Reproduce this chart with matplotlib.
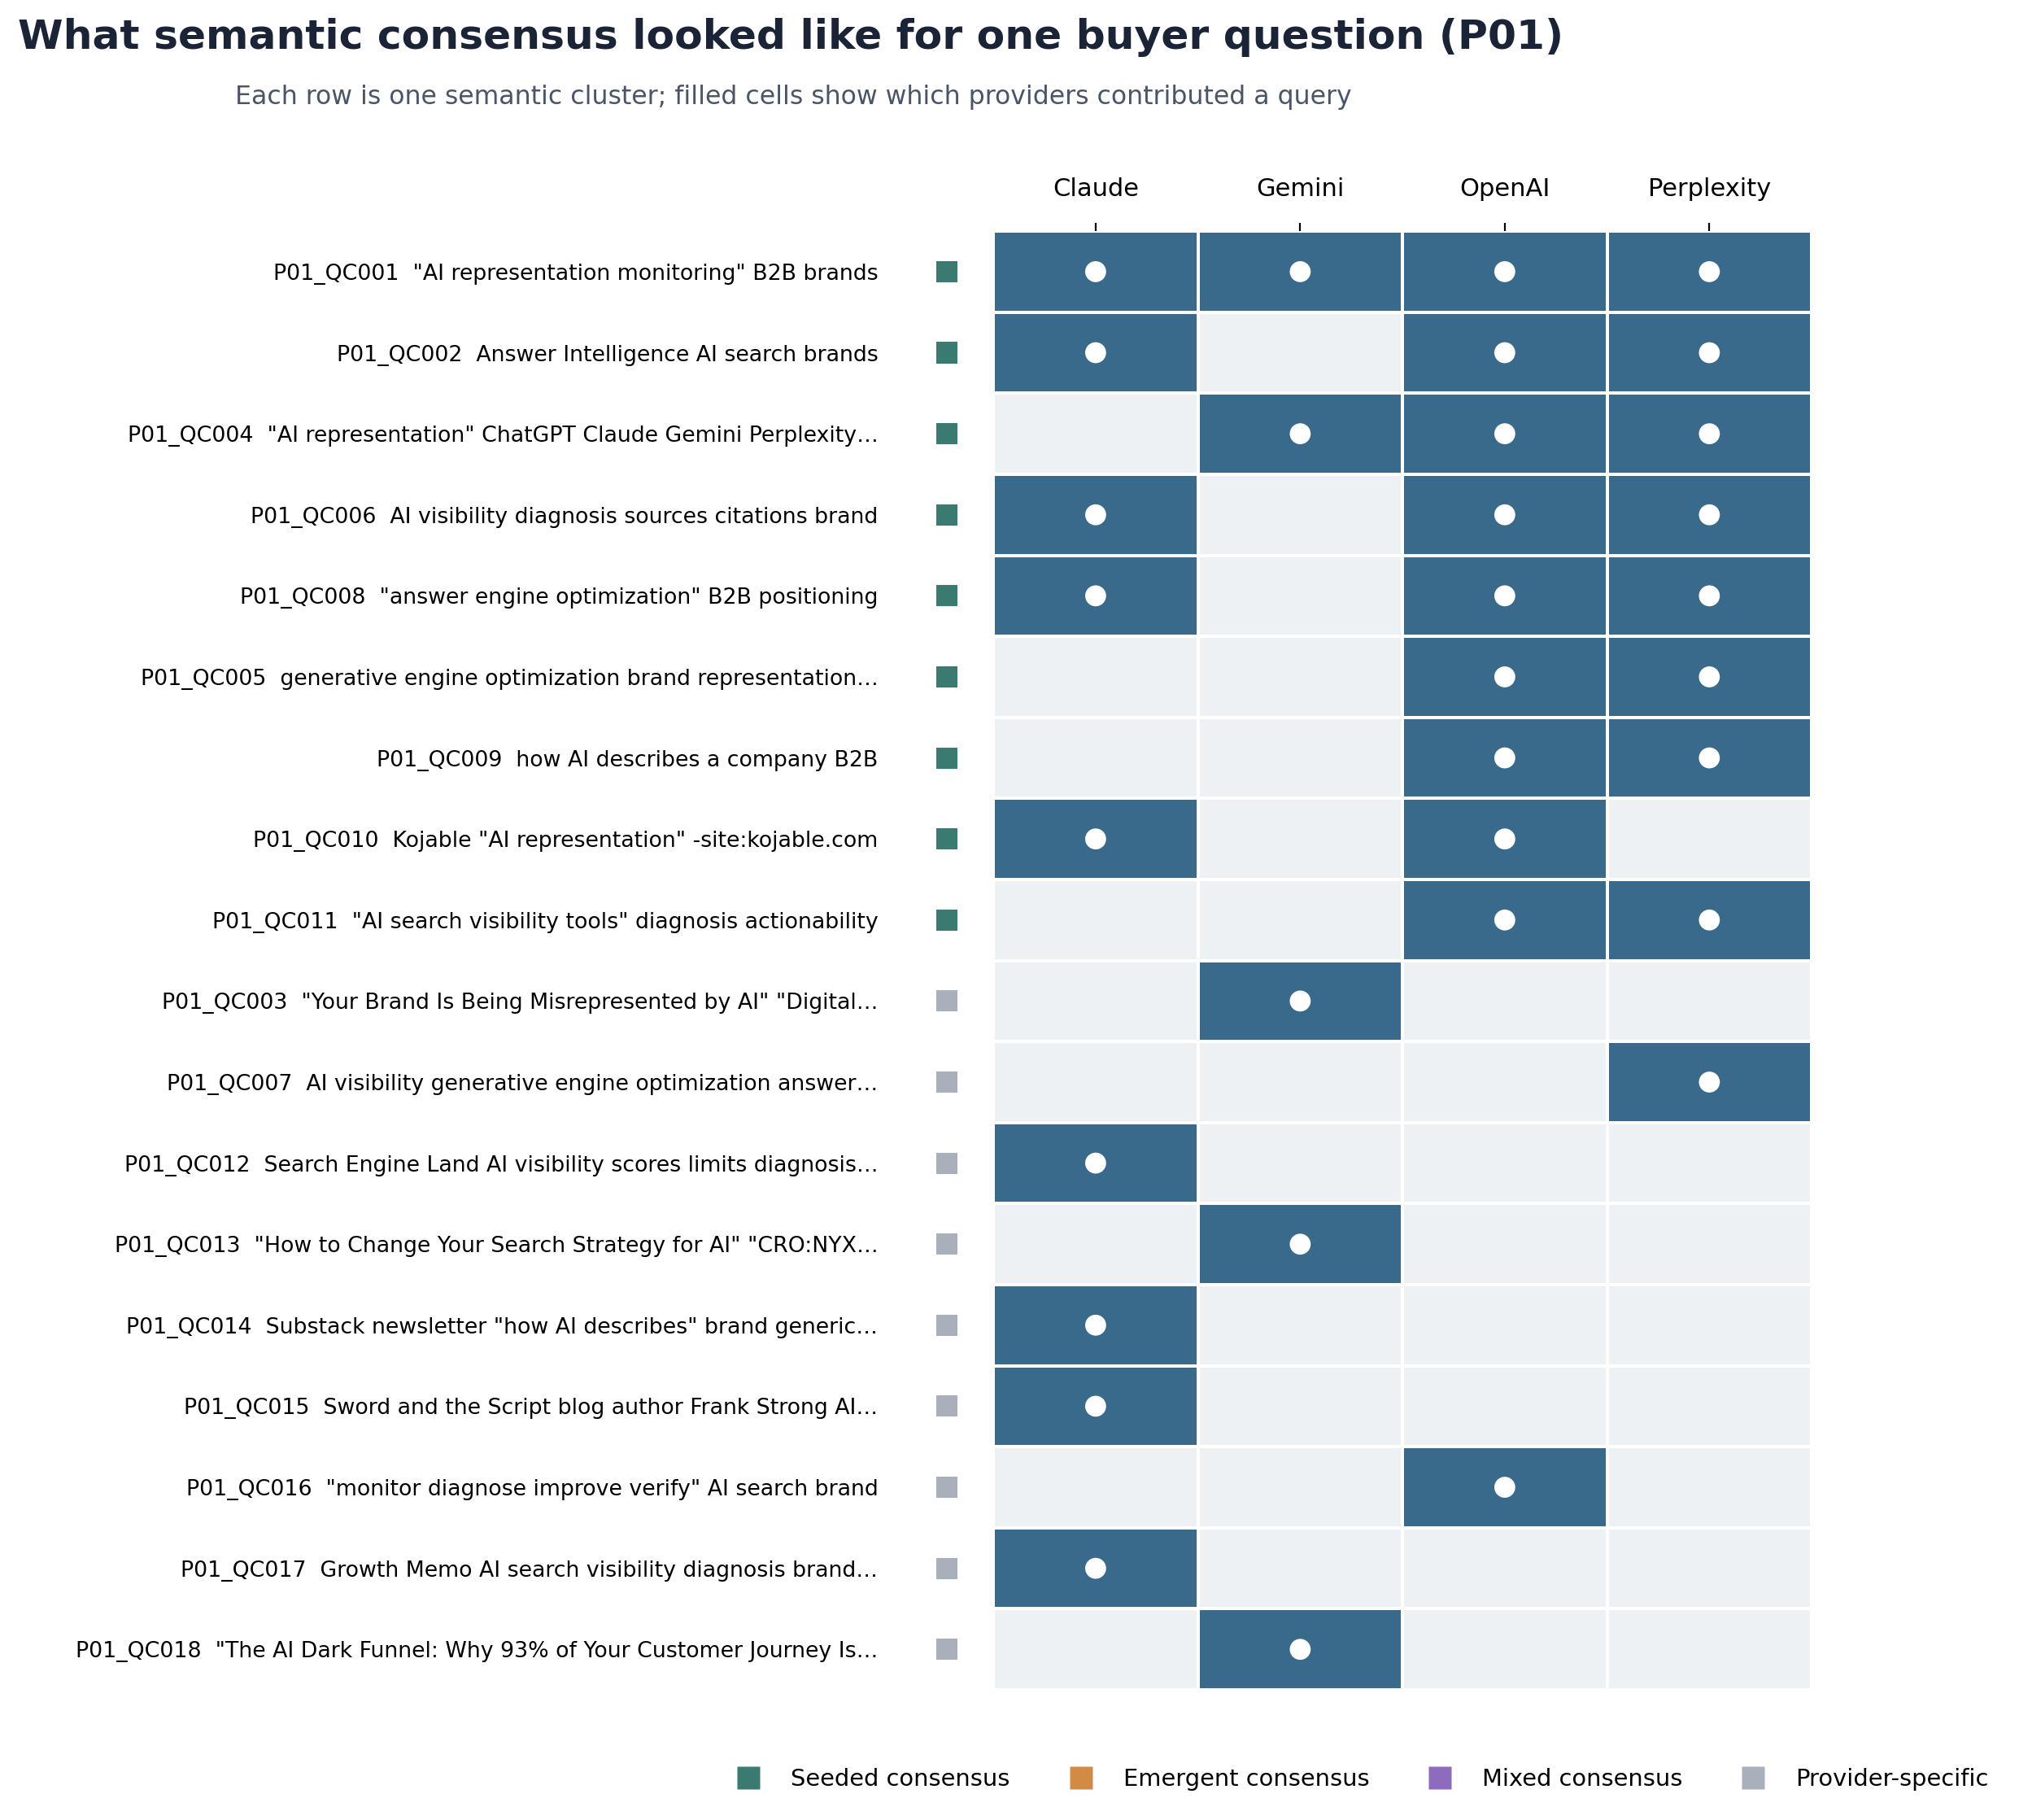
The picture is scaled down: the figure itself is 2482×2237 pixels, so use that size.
import numpy as np
import matplotlib
matplotlib.use("Agg")
import matplotlib.pyplot as plt
from matplotlib.colors import ListedColormap
from matplotlib.lines import Line2D
import matplotlib.transforms as mtransforms

providers = ["Claude", "Gemini", "OpenAI", "Perplexity"]

row_labels = [
    'P01_QC001  "AI representation monitoring" B2B brands',
    'P01_QC002  Answer Intelligence AI search brands',
    'P01_QC004  "AI representation" ChatGPT Claude Gemini Perplexity\u2026',
    'P01_QC006  AI visibility diagnosis sources citations brand',
    'P01_QC008  "answer engine optimization" B2B positioning',
    'P01_QC005  generative engine optimization brand representation\u2026',
    'P01_QC009  how AI describes a company B2B',
    'P01_QC010  Kojable "AI representation" -site:kojable.com',
    'P01_QC011  "AI search visibility tools" diagnosis actionability',
    'P01_QC003  "Your Brand Is Being Misrepresented by AI" "Digital\u2026',
    'P01_QC007  AI visibility generative engine optimization answer\u2026',
    'P01_QC012  Search Engine Land AI visibility scores limits diagnosis\u2026',
    'P01_QC013  "How to Change Your Search Strategy for AI" "CRO:NYX\u2026',
    'P01_QC014  Substack newsletter "how AI describes" brand generic\u2026',
    'P01_QC015  Sword and the Script blog author Frank Strong AI\u2026',
    'P01_QC016  "monitor diagnose improve verify" AI search brand',
    'P01_QC017  Growth Memo AI search visibility diagnosis brand\u2026',
    'P01_QC018  "The AI Dark Funnel: Why 93% of Your Customer Journey Is\u2026',
]

claude     = [1, 1, 0, 1, 1, 0, 0, 1, 0, 0, 0, 1, 0, 1, 1, 0, 1, 0]
gemini     = [1, 0, 1, 0, 0, 0, 0, 0, 0, 1, 0, 0, 1, 0, 0, 0, 0, 1]
openai     = [1, 1, 1, 1, 1, 1, 1, 1, 1, 0, 0, 0, 0, 0, 0, 1, 0, 0]
perplexity = [1, 1, 1, 1, 1, 1, 1, 0, 1, 0, 1, 0, 0, 0, 0, 0, 0, 0]

cluster_type = ["seeded"] * 9 + ["provider"] * 9

type_names = ["Seeded consensus", "Emergent consensus", "Mixed consensus", "Provider-specific"]
type_keys = ["seeded", "emergent", "mixed", "provider"]
type_colors = {"seeded": "#3a7a70", "emergent": "#d38a45", "mixed": "#8e6bbf", "provider": "#a9b0bc"}

FILLED = "#396a8b"
EMPTY = "#edf1f4"

matrix = np.array([claude, gemini, openai, perplexity]).T
n_rows, n_cols = matrix.shape

fig = plt.figure(figsize=(12.41, 11.185), dpi=200)
ax = fig.add_axes([0.492, 0.0715, 0.4053, 0.8015])

cmap = ListedColormap([EMPTY, FILLED])
ax.pcolormesh(np.arange(n_cols + 1), np.arange(n_rows + 1), matrix,
              cmap=cmap, vmin=0, vmax=1, edgecolors="white", linewidth=1.3)

rr, cc = np.nonzero(matrix)
ax.scatter(cc + 0.5, rr + 0.5, s=86, color="white", edgecolors="none", zorder=3)

ax.set_xlim(0, n_cols)
ax.set_ylim(n_rows, 0)

ax.set_xticks(np.arange(n_cols) + 0.5)
ax.set_xticklabels(providers, fontsize=11)
ax.xaxis.tick_top()
ax.tick_params(axis="x", top=True, bottom=False, labeltop=True, labelbottom=False,
               length=3.5, width=0.8, pad=10)

ax.set_yticks(np.arange(n_rows) + 0.5)
ax.set_yticklabels(row_labels, fontsize=9.65)
ax.tick_params(axis="y", length=0, pad=51)

for s in ax.spines.values():
    s.set_visible(False)

trans = mtransforms.blended_transform_factory(ax.transAxes, ax.transData)
ax.scatter([-0.057] * n_rows, np.arange(n_rows) + 0.5, marker="s", s=88,
           c=[type_colors[t] for t in cluster_type], transform=trans,
           clip_on=False, edgecolors="none")

fig.text(0.009, 0.973, "What semantic consensus looked like for one buyer question (P01)",
         fontsize=18.15, fontweight="bold", color="#1b2437", ha="left", va="baseline")
fig.text(0.393, 0.943,
         "Each row is one semantic cluster; filled cells show which providers contributed a query",
         fontsize=11.35, color="#4a5568", ha="center", va="baseline")

handles = [Line2D([0], [0], marker="s", linestyle="none", markersize=10,
                  markerfacecolor=type_colors[k], markeredgecolor="none") for k in type_keys]
fig.legend(handles, type_names, loc="center", bbox_to_anchor=(0.672, 0.0225),
           ncol=4, frameon=False, fontsize=10.4, handletextpad=0.8, columnspacing=2.0)

fig.savefig("out.png", dpi=200)
